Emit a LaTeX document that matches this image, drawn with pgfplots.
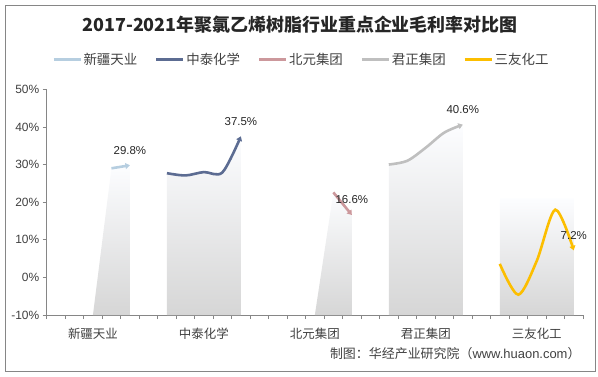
\documentclass[border=0pt]{standalone}
\usepackage{fontspec}
\setmainfont{Liberation Sans}
\newfontfamily\cjk{Noto Sans CJK SC}
\usepackage{pgfplots}
\pgfplotsset{compat=1.18}
\usetikzlibrary{arrows.meta}
\definecolor{cXJ}{RGB}{182,206,224}
\definecolor{cZT}{RGB}{92,108,146}
\definecolor{cBY}{RGB}{204,152,156}
\definecolor{cJZ}{RGB}{191,191,191}
\definecolor{cSY}{RGB}{252,190,0}
\definecolor{axisgray}{RGB}{134,134,134}
\definecolor{shadegray}{RGB}{214,214,214}
\definecolor{shademid}{RGB}{238,239,241}
\definecolor{shadetop}{RGB}{252,253,255}
\definecolor{txt}{RGB}{64,64,64}
\begin{document}
\begin{tikzpicture}[x=1bp,y=1bp]
\path (0,0) rectangle (598,376);
\draw[axisgray, line width=0.8bp] (5,4.5) rectangle (595,371);
\node[font=\cjk\bfseries\fontsize{18}{20}\selectfont, text=black!85] at (300,351) {2017-2021年聚氯乙烯树脂行业重点企业毛利率对比图};
\begin{axis}[
  at={(46.7bp,61bp)}, anchor=south west,
  scale only axis, width=536.3bp, height=225.7bp,
  xmin=0, xmax=29, ymin=-10, ymax=50,
  axis lines*=left,
  axis line style={axisgray, line width=0.75bp},
  tick style={axisgray, line width=0.75bp},
  tick align=outside, major tick length=4bp,
  xtick={0,1,...,29}, xticklabels={},
  ytick={-10,0,10,20,30,40,50},
  yticklabels={-10\%,0\%,10\%,20\%,30\%,40\%,50\%},
  yticklabel style={font=\fontsize{12}{14}\selectfont, text=txt},
  extra x ticks={2.5,8.5,14.5,20.5,26.5},
  extra x tick labels={新疆天业,中泰化学,北元集团,君正集团,三友化工},
  extra x tick style={major tick length=0pt, tick label style={font=\cjk\fontsize{12.5}{14}\selectfont, text=txt, yshift=-9.5bp}},
  legend style={at={(0.4742,1.1320)}, anchor=center, draw=none, fill=none,
    font=\cjk\fontsize{13.5}{15}\selectfont, text=txt, legend columns=-1,
    nodes={inner sep=1.5bp},
    /tikz/every even column/.append style={column sep=16bp}},
  legend image code/.code={\draw[#1,-,line width=3bp] (0bp,0bp) -- (27bp,0bp);},
  every node near coord/.append style={font=\fontsize{11.5}{13}\selectfont, text=black!85, anchor=center, yshift=15bp},
]
% gradient areas
\addplot[forget plot, draw=none, top color=shadetop, middle color=shademid, bottom color=shadegray] coordinates {(2.5,-10) (3.5,29.0) (4.5,29.8) (4.5,-10)} -- cycle;
\addplot[forget plot, draw=none, top color=shadetop, middle color=shademid, bottom color=shadegray] coordinates {(6.5,-10) (6.5,27.7) (7.5,27.1) (8.5,28.0) (9.5,27.9) (10.5,37.5) (10.5,-10)} -- cycle;
\addplot[forget plot, draw=none, top color=shadetop, middle color=shademid, bottom color=shadegray] coordinates {(14.5,-10) (15.5,22.6) (16.5,16.6) (16.5,-10)} -- cycle;
\addplot[forget plot, draw=none, top color=shadetop, middle color=shademid, bottom color=shadegray] coordinates {(18.5,-10) (18.5,30.0) (19.5,31.0) (20.5,34.5) (21.5,38.5) (22.5,40.6) (22.5,-10)} -- cycle;
\addplot[forget plot, draw=none, top color=shadetop, middle color=shademid, bottom color=shadegray] coordinates {(24.5,-10) (24.5,21) (25.5,21) (26.5,21) (27.5,21) (28.5,21) (28.5,-10)} -- cycle;
% lines
\addplot[cXJ, line width=2.6bp, smooth, -{Triangle[length=4.5bp,width=6bp]}] coordinates {(3.5,29.0) (4.5,29.8)};
\addlegendentry{新疆天业}
\addplot[cZT, line width=2.6bp, smooth, -{Triangle[length=4.5bp,width=6bp]}] coordinates {(6.5,27.7) (7.5,27.1) (8.5,28.0) (9.5,27.9) (10.5,37.5)};
\addlegendentry{中泰化学}
\addplot[cBY, line width=2.6bp, smooth, -{Triangle[length=4.5bp,width=6bp]}] coordinates {(15.5,22.6) (16.5,16.6)};
\addlegendentry{北元集团}
\addplot[cJZ, line width=2.6bp, smooth, -{Triangle[length=4.5bp,width=6bp]}] coordinates {(18.5,30.0) (19.5,31.0) (20.5,34.5) (21.5,38.5) (22.5,40.6)};
\addlegendentry{君正集团}
\addplot[cSY, line width=2.6bp, smooth, -{Triangle[length=4.5bp,width=6bp]}] coordinates {(24.5,3.6) (25.5,-4.6) (26.5,4.4) (27.5,18.0) (28.5,7.2)};
\addlegendentry{三友化工}
% end labels
\addplot[forget plot, draw=none, mark=none, nodes near coords, point meta=explicit symbolic] coordinates {(4.5,29.8) [29.8\%] (10.5,37.5) [37.5\%] (16.5,16.6) [16.6\%] (22.5,40.6) [40.6\%] (28.5,7.2) [7.2\%]};
\end{axis}
\node[anchor=east, font=\fontsize{13}{15}\selectfont, text=txt] at (584,22) {{\cjk 制图：华经产业研究院（}www.huaon.com{\cjk ）}};
\end{tikzpicture}
\end{document}
